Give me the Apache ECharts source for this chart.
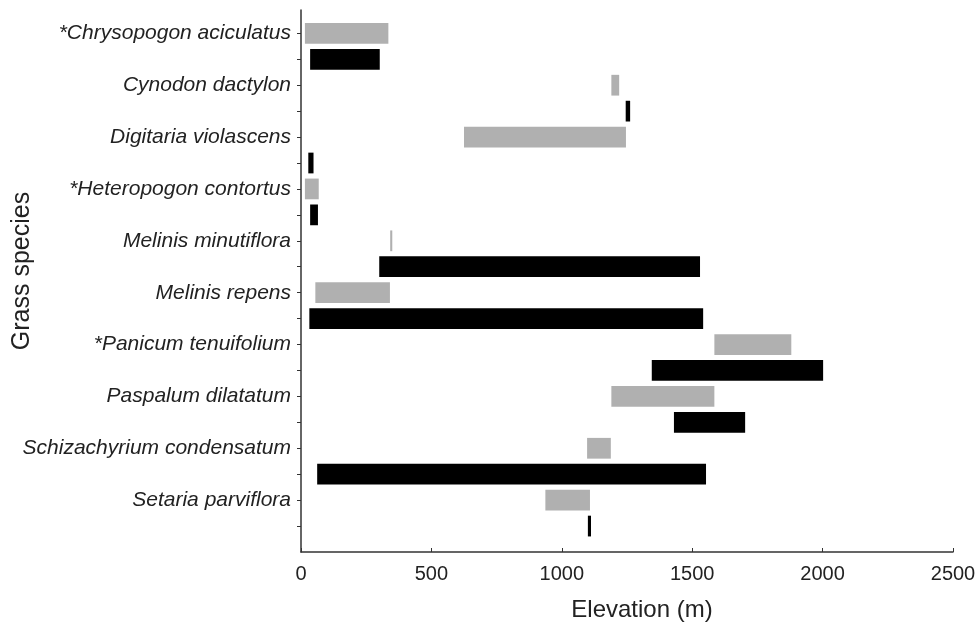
<!DOCTYPE html>
<html lang="en">
<head>
  <meta charset="UTF-8">
  <title>Grass species elevation ranges</title>
  <script src="https://cdn.jsdelivr.net/npm/echarts@6.0.0/dist/echarts.min.js"></script>
  <style>
    html, body { margin: 0; padding: 0; background: #fff; }
    #chart { width: 977px; height: 625px; }
  </style>
</head>
<body>
<div id="chart"></div>
<script>
  // species, top to bottom
  var species = [
    '*Chrysopogon aciculatus',
    'Cynodon dactylon',
    'Digitaria violascens',
    '*Heteropogon contortus',
    'Melinis minutiflora',
    'Melinis repens',
    '*Panicum tenuifolium',
    'Paspalum dilatatum',
    'Schizachyrium condensatum',
    'Setaria parviflora'
  ];
  // grey bars (upper row of each species), elevation in m
  var greyStart = [15, 1190, 625, 15, 342, 55, 1585, 1190, 1097, 937];
  var greyEnd   = [335, 1220, 1246, 68, 350, 341, 1880, 1585, 1188, 1108];
  // black bars (lower row)
  var blackStart = [35, 1245, 28, 35, 300, 32, 1345, 1430, 62, 1100];
  var blackEnd   = [302, 1262, 48, 65, 1530, 1542, 2002, 1703, 1553, 1112];
  var xTicks = [0, 500, 1000, 1500, 2000, 2500];

  var nRows = species.length * 2;
  var greyData = species.map(function (s, i) { return [greyStart[i], greyEnd[i], nRows - 2 * i]; });
  var blackData = species.map(function (s, i) { return [blackStart[i], blackEnd[i], nRows - 2 * i - 1]; });

  var tickVals = [];
  for (var k = 1; k <= nRows; k++) tickVals.push(k);
  var labelVals = species.map(function (s, i) { return nRows - 2 * i; });

  function renderBar(params, api) {
    var p0 = api.coord([api.value(0), api.value(2)]);
    var p1 = api.coord([api.value(1), api.value(2)]);
    var h = api.size([0, 1])[1] * 0.8;
    return {
      type: 'rect',
      shape: { x: p0[0], y: p0[1] - h / 2, width: Math.max(p1[0] - p0[0], 2), height: h },
      style: api.style()
    };
  }

  var chart = echarts.init(document.getElementById('chart'), null, { renderer: 'canvas' });
  chart.setOption({
    backgroundColor: '#fff',
    animation: false,
    textStyle: { fontFamily: 'Liberation Sans, Arial, sans-serif' },
    grid: { left: 301, right: 24, top: 10, bottom: 73, containLabel: false, outerBoundsMode: 'none' },
    xAxis: {
      type: 'value',
      min: xTicks[0],
      max: xTicks[xTicks.length - 1],
      interval: 500,
      name: 'Elevation (m)',
      nameLocation: 'middle',
      nameGap: 46,
      nameMoveOverlap: false,
      nameTextStyle: { fontSize: 24, color: '#222', padding: [0, 0, 0, 30] },
      axisLine: { lineStyle: { color: '#333', width: 1.5 } },
      axisTick: { inside: true, length: 4, lineStyle: { color: '#333' } },
      axisLabel: {
        fontSize: 20,
        color: '#222',
        margin: 12,
        formatter: function (v) { return String(v); }
      },
      splitLine: { show: false }
    },
    yAxis: {
      type: 'value',
      min: 0,
      max: nRows + 0.9,
      name: 'Grass species',
      nameLocation: 'middle',
      nameGap: 266,
      nameRotate: 90,
      nameMoveOverlap: false,
      nameTextStyle: { fontSize: 25, color: '#222', padding: [0, 0, 0, 20] },
      axisLine: { show: true, lineStyle: { color: '#333', width: 1.5 } },
      axisTick: { show: true, length: 4, customValues: tickVals, lineStyle: { color: '#333' } },
      axisLabel: {
        customValues: labelVals,
        fontSize: 21,
        fontStyle: 'italic',
        color: '#222',
        margin: 10,
        formatter: function (v) { return species[(nRows - v) / 2] || ''; }
      },
      splitLine: { show: false }
    },
    series: [
      {
        name: 'grey',
        type: 'custom',
        renderItem: renderBar,
        encode: { x: [0, 1], y: 2 },
        itemStyle: { color: '#b0b0b0' },
        data: greyData
      },
      {
        name: 'black',
        type: 'custom',
        renderItem: renderBar,
        encode: { x: [0, 1], y: 2 },
        itemStyle: { color: '#000' },
        data: blackData
      }
    ]
  });
</script>
</body>
</html>
